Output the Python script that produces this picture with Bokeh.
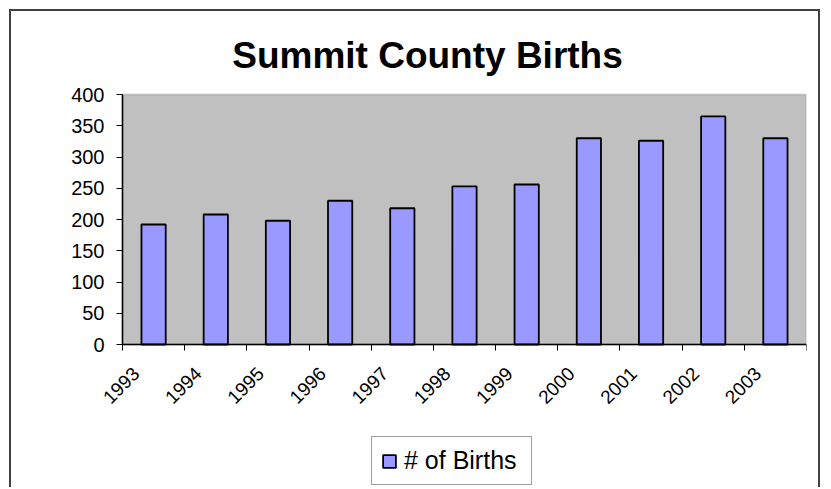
import math
from bokeh.plotting import figure
from bokeh.models import (Range1d, FixedTicker, LinearAxis, Legend, LegendItem,
                          ColumnDataSource, BoxAnnotation, Label)
from bokeh.embed import file_html
from bokeh.resources import INLINE

# ---- data ----
years = ["1993", "1994", "1995", "1996", "1997", "1998", "1999", "2000", "2001", "2002", "2003"]
births = [192, 208, 198, 230, 218, 253, 256, 330, 326, 365, 330]
y_ticks = [0, 50, 100, 150, 200, 250, 300, 350, 400]
y_max = 400
series_name = "# of Births"
title_text = "Summit County Births"

FONT = "Liberation Sans"
n = len(years)
xpos = [i + 0.5 for i in range(n)]
label_shift = -0.28
label_pos = [x + label_shift for x in xpos]
boundaries = list(range(n + 1))

# ---- layout (pixels) ----
W, H = 811, 478
area_w_px, area_h_px = 684, 250      # grey plot area
top_px, below_px = 83, 145           # space above / below plot area inside frame
left_px = 62                         # space left of plot area inside frame
frame_left = 49                      # canvas px
y_lo = -y_max * below_px / area_h_px
y_hi = y_max + y_max * top_px / area_h_px
x_lo = -n * left_px / area_w_px

src = ColumnDataSource(dict(x=xpos, births=births, year=years))

p = figure(width=W, height=H, output_backend="svg", toolbar_location=None,
           x_range=Range1d(x_lo, n), y_range=Range1d(y_lo, y_hi),
           min_border_left=frame_left, min_border_right=W - frame_left - left_px - area_w_px,
           min_border_top=0, min_border_bottom=0, x_axis_type=None, y_axis_type=None)
p.title.visible = False
p.styles = {"margin-left": "9px", "margin-top": "9px",
            "border-top": "2px solid #404040", "border-left": "2px solid #404040",
            "border-right": "2px solid #404040"}

p.background_fill_color = "white"
p.border_fill_color = "white"
p.outline_line_color = None

plot_area = BoxAnnotation(left=0, right=n, bottom=0, top=y_max,
                          fill_color="#C0C0C0", fill_alpha=1,
                          line_color="#808080", line_width=2, level="underlay")
p.add_layout(plot_area)

r = p.vbar(x="x", top="births", width=0.39, bottom=0, source=src,
           fill_color="#9999FF", line_color="black", line_width=1.8)

# y axis at x=0
yax = LinearAxis(ticker=FixedTicker(ticks=y_ticks), bounds=(0, y_max), fixed_location=0)
yax.axis_line_color = "black"
yax.axis_line_width = 1.5
yax.major_tick_line_color = "black"
yax.major_tick_out = 6
yax.major_tick_in = 0
yax.minor_tick_line_color = None
yax.major_label_standoff = 12
yax.major_label_text_font = FONT
yax.major_label_text_font_size = "20px"
yax.major_label_text_color = "black"
p.add_layout(yax, "left")

# x axis at y=0: year labels (major) + tick marks at category boundaries (minor)
xax = LinearAxis(ticker=FixedTicker(ticks=label_pos, minor_ticks=boundaries),
                 major_label_overrides={lp: y for lp, y in zip(label_pos, years)},
                 fixed_location=0, bounds=(0, n))
xax.axis_line_color = "black"
xax.axis_line_width = 1.5
xax.major_tick_line_color = None
xax.major_tick_out = 0
xax.major_tick_in = 0
xax.minor_tick_line_color = "black"
xax.minor_tick_out = 6
xax.minor_tick_in = 0
xax.major_label_orientation = math.pi / 4
xax.major_label_standoff = 20
xax.major_label_text_font = FONT
xax.major_label_text_font_size = "19px"
xax.major_label_text_color = "black"
p.add_layout(xax, "below")

p.xgrid.grid_line_color = None
p.ygrid.grid_line_color = None

# title (screen units, relative to frame bottom-left)
title = Label(x=367, y=H - 44, x_units="screen", y_units="screen", text=title_text,
              text_font=FONT, text_font_size="37px", text_font_style="bold",
              text_color="black", text_align="center", text_baseline="alphabetic")
p.add_layout(title)

# legend
legend = Legend(items=[LegendItem(label=series_name, renderers=[r])],
                location=(311, 4))
legend.label_text_font = FONT
legend.label_text_font_size = "25px"
legend.label_text_color = "black"
legend.border_line_color = "#404040"
legend.border_line_width = 1.2
legend.background_fill_color = "white"
legend.background_fill_alpha = 1
legend.padding = 9
legend.margin = 0
legend.glyph_width = 16
legend.glyph_height = 16
legend.label_standoff = 7
legend.label_height = 22
legend.label_width = 118
p.add_layout(legend, "center")

open("out.html", "w").write(file_html(p, INLINE))
